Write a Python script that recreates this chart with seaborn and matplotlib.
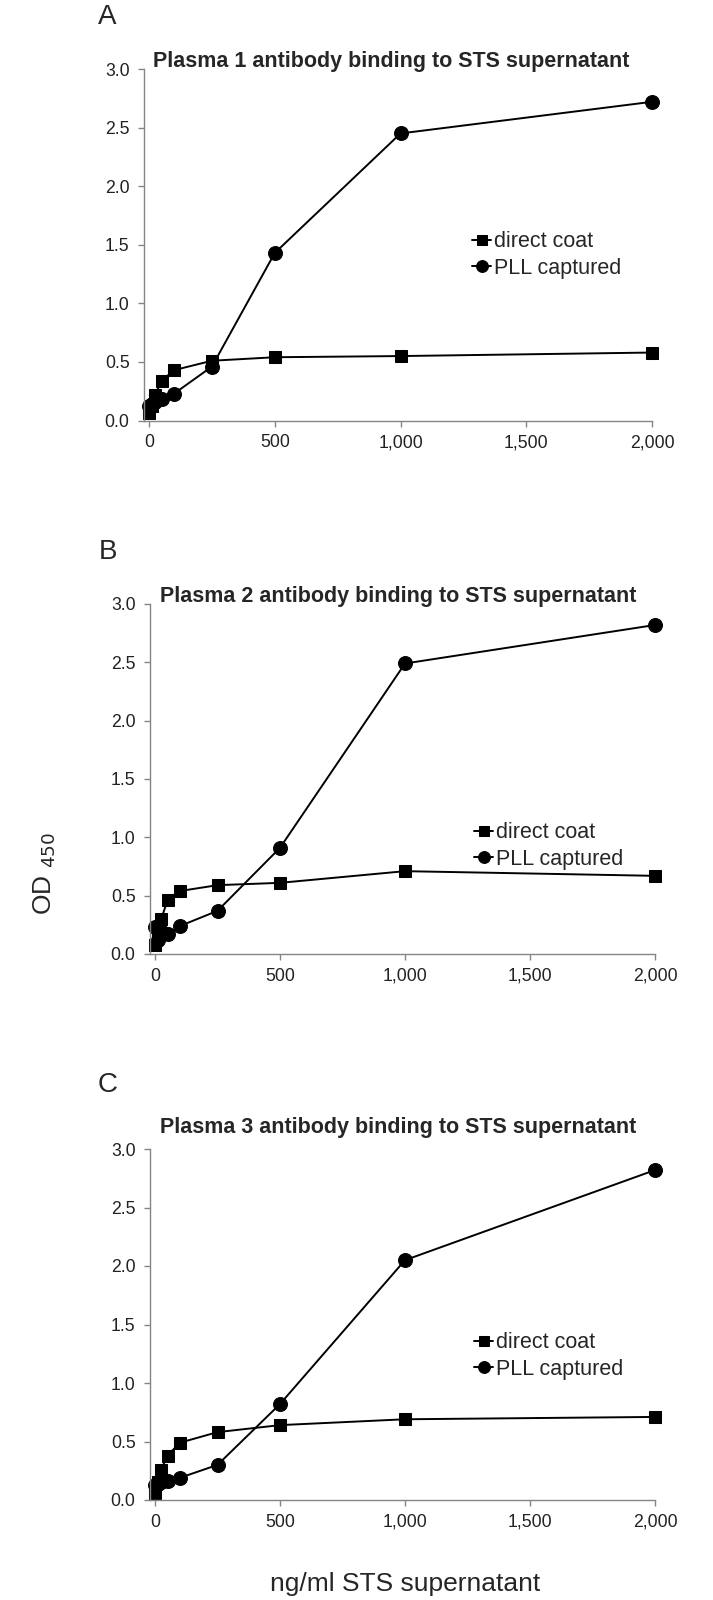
import numpy as np
import pandas as pd
import matplotlib
matplotlib.use('Agg')
import matplotlib.pyplot as plt
import matplotlib.ticker as mtick
import seaborn as sns

# ── Data ──────────────────────────────────────────────────────────────────────
conc = [0, 10, 25, 50, 100, 250, 500, 1000, 2000]

p1_direct = [0.06, 0.12, 0.22, 0.34, 0.43, 0.51, 0.54, 0.55, 0.58]
p1_pll    = [0.12, 0.14, 0.16, 0.18, 0.23, 0.46, 1.43, 2.45, 2.72]

p2_direct = [0.08, 0.20, 0.30, 0.46, 0.54, 0.59, 0.61, 0.71, 0.67]
p2_pll    = [0.23, 0.12, 0.20, 0.17, 0.24, 0.37, 0.91, 2.49, 2.82]

p3_direct = [0.06, 0.15, 0.26, 0.38, 0.49, 0.58, 0.64, 0.69, 0.71]
p3_pll    = [0.13, 0.14, 0.15, 0.16, 0.19, 0.30, 0.82, 2.05, 2.82]

titles  = ['Plasma 1 antibody binding to STS supernatant',
           'Plasma 2 antibody binding to STS supernatant',
           'Plasma 3 antibody binding to STS supernatant']
letters = ['A', 'B', 'C']
yticks  = [0.0, 0.5, 1.0, 1.5, 2.0, 2.5, 3.0]
xticks  = [0, 500, 1000, 1500, 2000]

# ── Style ─────────────────────────────────────────────────────────────────────
sns.set_style('white')
plt.rcParams['font.family'] = ['Liberation Sans', 'DejaVu Sans']
GREY = '#858585'

W, H = 713, 1600
fig = plt.figure(figsize=(W / 100, H / 100), dpi=100)

# axes boxes in pixels: left, top, right, bottom
boxes = [(143.5, 69, 652, 420.5),
         (149.5, 604, 655, 954),
         (149.5, 1149, 655, 1500)]
title_pos  = [(153, 61), (160, 597), (160, 1127)]
letter_pos = [(107, 17), (108, 552), (108, 1085)]
legend_pos = [(472, 255), (474, 846), (474, 1356)]

series = [(p1_direct, p1_pll), (p2_direct, p2_pll), (p3_direct, p3_pll)]

for i, (direct, pll) in enumerate(series):
    l, t, r, b = boxes[i]
    ax = fig.add_axes([l / W, 1 - b / H, (r - l) / W, (b - t) / H])
    df = pd.DataFrame({'conc': conc, 'direct coat': direct, 'PLL captured': pll})

    sns.lineplot(data=df, x='conc', y='direct coat', ax=ax, color='black',
                 marker='s', markersize=8.5, linewidth=1.4, label='direct coat',
                 markeredgecolor='black', clip_on=False)
    sns.lineplot(data=df, x='conc', y='PLL captured', ax=ax, color='black',
                 marker='o', markersize=10, linewidth=1.4, label='PLL captured',
                 markeredgecolor='black', clip_on=False)

    ax.set_xlim(-22, 2000)
    ax.set_ylim(0, 3.0)
    ax.set_xticks(xticks)
    ax.set_yticks(yticks)
    ax.xaxis.set_major_formatter(mtick.StrMethodFormatter('{x:,.0f}'))
    ax.yaxis.set_major_formatter(mtick.FormatStrFormatter('%.1f'))
    ax.set_xlabel('')
    ax.set_ylabel('')
    for s in ['top', 'right']:
        ax.spines[s].set_visible(False)
    for s in ['left', 'bottom']:
        ax.spines[s].set_color(GREY)
        ax.spines[s].set_linewidth(1.0)
    ax.tick_params(axis='both', direction='out', length=4, width=1,
                   color=GREY, labelsize=12.7, labelcolor='#222222', pad=6,
                   left=True, bottom=True)

    lx, ly = legend_pos[i]
    ax.legend(loc='center left', bbox_to_anchor=(lx / W, 1 - ly / H),
              bbox_transform=fig.transFigure, frameon=False, fontsize=15.5,
              handlelength=0.9, handletextpad=0.1, labelspacing=0.25,
              borderaxespad=0, borderpad=0, markerscale=0.85)

    tx, ty = title_pos[i]
    fig.text(tx / W, 1 - ty / H, titles[i], fontsize=15.5, fontweight='bold',
             va='center', ha='left')
    px, py = letter_pos[i]
    fig.text(px / W, 1 - py / H, letters[i], fontsize=20, va='center', ha='center')

fig.text(45 / W, 1 - 873 / H, 'OD $_{450}$', fontsize=19, rotation=90,
         va='center', ha='center')
fig.text(405 / W, 1 - 1584 / H, 'ng/ml STS supernatant', fontsize=19,
         va='center', ha='center')

fig.savefig('out.png', dpi=100)
